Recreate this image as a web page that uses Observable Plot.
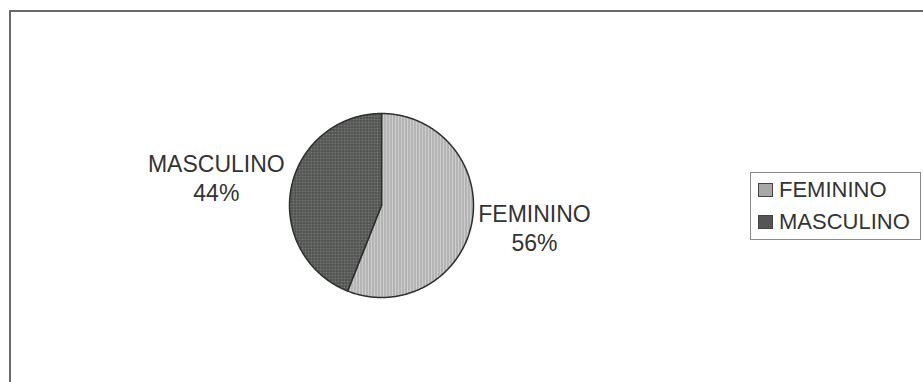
<!DOCTYPE html>
<html>
<head>
<meta charset="utf-8">
<script src="https://cdn.jsdelivr.net/npm/d3@7"></script>
<script src="https://cdn.jsdelivr.net/npm/@observablehq/plot@0.6"></script>
<style>
  html, body { margin: 0; padding: 0; background: #fff; overflow: hidden; }
  #wrap { position: relative; width: 923px; height: 382px; font-family: "Liberation Sans", Arial, sans-serif; }
  #frame { position: absolute; left: 9px; top: 10px; width: 1000px; height: 500px; border-left: 2px solid #6a6a6a; border-top: 2px solid #6a6a6a; box-sizing: border-box; }
  #chart { position: absolute; left: 0; top: 0; }
  #legend { position: absolute; left: 750px; top: 172px; width: 171px; height: 68px; border: 1px solid #8a8a8a; box-sizing: border-box; background: #fff; }
  .item { position: absolute; left: 7px; height: 24px; display: flex; align-items: center; font-size: 22px; color: #333; }
  .sw { width: 15px; height: 14px; margin-right: 6px; border: 1px solid #444; box-sizing: border-box; }
</style>
</head>
<body>
<div id="wrap">
  <div id="frame"></div>
  <div id="chart"></div>
  <div id="legend"></div>
</div>
<script>
const categories = ["FEMININO", "MASCULINO"];
const values = [56, 44];
const valueLabels = ["56%", "44%"];
const patternIds = ["fem", "masc"];
const patternBg = ["#cdcdcd", "#767876"];
const patternLine = ["#9a9a9a", "#484a48"];

const arcs = d3.pie().sort(null)(values);
const slices = [];
arcs.forEach((a, i) => {
  slices.push({cat: categories[i], x: 0, y: 0});
  const n = Math.max(2, Math.ceil((a.endAngle - a.startAngle) / (Math.PI / 360)));
  for (let k = 0; k <= n; k++) {
    const t = a.startAngle + (a.endAngle - a.startAngle) * k / n;
    slices.push({cat: categories[i], x: Math.sin(t), y: Math.cos(t)});
  }
  slices.push({cat: categories[i], x: 0, y: 0});
});

const FS = 23;
const ctx = document.createElement("canvas").getContext("2d");
ctx.font = FS + "px 'Liberation Sans'";
const labels = arcs.map((a, i) => {
  const mid = (a.startAngle + a.endAngle) / 2;
  const side = Math.sin(mid) >= 0 ? 1 : -1;
  const w = Math.max(ctx.measureText(categories[i]).width, ctx.measureText(valueLabels[i]).width);
  return {
    text: categories[i] + "\n" + valueLabels[i],
    x: 1.06 * Math.sin(mid),
    y: 1.06 * Math.cos(mid),
    dx: side * (w / 2 + 1),
    dy: -Math.cos(mid) * 36 - 3
  };
});

const plot = Plot.plot({
  width: 923,
  height: 382,
  marginLeft: 289,
  marginRight: 450,
  marginTop: 113,
  marginBottom: 85,
  x: {domain: [-1, 1], axis: null},
  y: {domain: [-1, 1], axis: null},
  color: {domain: categories, range: patternIds.map(id => `url(#${id})`)},
  style: {background: "transparent", overflow: "visible"},
  marks: [
    Plot.line(slices, {x: "x", y: "y", z: "cat", fill: "cat", stroke: "#2e2e2e", strokeWidth: 1.5, strokeLinejoin: "round", curve: "linear"}),
    ...labels.map(l => Plot.text([l], {x: "x", y: "y", text: "text", dx: l.dx, dy: l.dy, textAnchor: "middle", lineHeight: 1.25, fontSize: FS, fill: "#333", fontFamily: "Liberation Sans, Arial, sans-serif"}))
  ]
});

const ns = "http://www.w3.org/2000/svg";
const defs = document.createElementNS(ns, "defs");
patternIds.forEach((id, i) => {
  const p = document.createElementNS(ns, "pattern");
  p.setAttribute("id", id);
  p.setAttribute("patternUnits", "userSpaceOnUse");
  p.setAttribute("width", 3);
  p.setAttribute("height", 3);
  const r = document.createElementNS(ns, "rect");
  r.setAttribute("width", 3); r.setAttribute("height", 3); r.setAttribute("fill", patternBg[i]);
  const l = document.createElementNS(ns, "rect");
  l.setAttribute("width", 1); l.setAttribute("height", 3); l.setAttribute("fill", patternLine[i]);
  p.appendChild(r); p.appendChild(l);
  if (i === 1) {
    const h = document.createElementNS(ns, "rect");
    h.setAttribute("width", 3); h.setAttribute("height", 1); h.setAttribute("fill", patternLine[i]);
    p.appendChild(h);
  }
  defs.appendChild(p);
});
plot.insertBefore(defs, plot.firstChild);
document.getElementById("chart").appendChild(plot);

const legend = document.getElementById("legend");
categories.forEach((c, i) => {
  const item = document.createElement("div");
  item.className = "item";
  item.style.top = (5 + i * 32) + "px";
  const sw = document.createElement("div");
  sw.className = "sw";
  sw.style.background = i === 0 ? "#a8a8a8" : "#555";
  const tx = document.createElement("span");
  tx.textContent = c;
  item.appendChild(sw); item.appendChild(tx);
  legend.appendChild(item);
});
</script>
</body>
</html>
